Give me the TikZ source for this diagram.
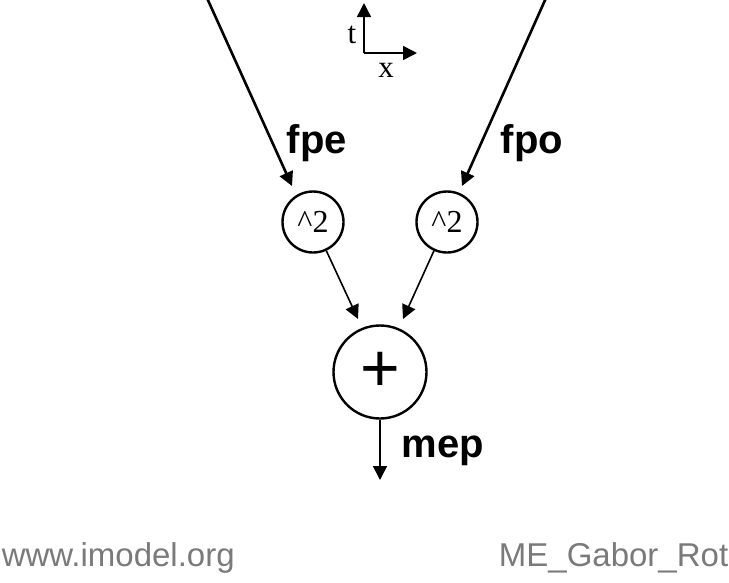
\documentclass[tikz,border=0pt]{standalone}
\usepackage{fontspec}
\setmainfont{Liberation Serif}
\setsansfont{Liberation Sans}
\usetikzlibrary{arrows.meta}
\definecolor{MarkGray}{HTML}{7A7A7A}

\begin{document}
\begin{tikzpicture}[x=1pt,y=-1pt,line width=1.6pt,
  opnode/.style={circle,draw,line width=2.4pt,inner sep=0pt},
  flow/.style={-{Triangle[length=14pt,width=14pt]}},
  sig/.style={font=\sffamily\bfseries\fontsize{40}{40}\selectfont,inner sep=0pt,anchor=base west},
  axlabel/.style={font=\fontsize{31}{31}\selectfont,inner sep=0pt},
  footmark/.style={font=\sffamily\fontsize{33}{33}\selectfont,text=MarkGray,inner sep=0pt}]
  \useasboundingbox (0,0) rectangle (729,582);
  % inputs
  \coordinate (ine) at (207,-2);
  \coordinate (ino) at (546,-2);
  \coordinate (ende) at (292,186);
  \coordinate (endo) at (462,186);
  \draw[flow,line width=2.6pt] (ine) -- (ende);
  \draw[flow,line width=2.6pt] (ino) -- (endo);
  \node[sig] (lfpe) at (286,153) {fpe};
  \node[sig] (lfpo) at (500,153) {fpo};
  % squares and sum
  \node[opnode,minimum size=61pt,font=\fontsize{32}{32}\selectfont] (sqe) at (313,222) {\^{}2};
  \node[opnode,minimum size=61pt,font=\fontsize{32}{32}\selectfont] (sqo) at (447,222) {\^{}2};
  \node[opnode,minimum size=93pt,font=\sffamily\fontsize{68}{68}\selectfont] (sum) at (380,372) {\raisebox{-2pt}{+}};
  \coordinate (tipe) at (358,319);
  \coordinate (tipo) at (403,319);
  \draw[flow] (sqe) -- (tipe);
  \draw[flow] (sqo) -- (tipo);
  \coordinate (out) at (380,480);
  \draw[flow] (sum) -- (out);
  \node[sig] (lmep) at (401,457) {mep};
  % axes
  \coordinate (orig) at (364,53);
  \coordinate (tup) at (364,3);
  \coordinate (xright) at (417,53);
  \draw[flow] (orig) -- (tup);
  \draw[flow] (orig) -- (xright);
  \node[axlabel] (lt) at (352,35) {t};
  \node[axlabel] (lx) at (386,70) {x};
  % footer
  \node[footmark,anchor=base west] (site) at (1,566) {www.imodel.org};
  \node[footmark,anchor=base east] (tag) at (729,566) {ME\_Gabor\_Rot};
\end{tikzpicture}
\end{document}
